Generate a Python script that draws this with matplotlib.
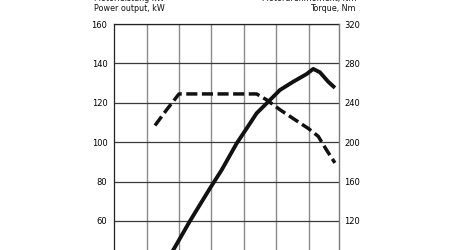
import matplotlib
matplotlib.use("Agg")
import matplotlib.pyplot as plt

# Data (rpm, power kW, torque Nm)
power_rpm = [2500, 2822, 3337, 3955, 4316, 4779, 5088, 5396, 5807, 6116, 6526, 6940, 7144, 7350, 7607, 7814]
power_kw = [37.0, 45.3, 60.0, 76.6, 85.9, 99.4, 107.0, 114.7, 121.4, 126.5, 130.7, 134.6, 137.2, 135.5, 130.7, 127.6]

torque_rpm = [2257, 2618, 2998, 5396, 5705, 6116, 6526, 6990, 7298, 7557, 7814]
torque_nm = [217, 233, 249, 249, 243, 233, 224, 214, 206, 192, 179]

power_ticks = [60, 80, 100, 120, 140, 160]
torque_ticks = [120, 160, 200, 240, 280, 320]
rpm_grid = [2000, 3000, 4000, 5000, 6000, 7000]

W, H = 467, 250
fig = plt.figure(figsize=(W / 100, H / 100), dpi=100)
left = 114.3 / W
right = 339.0 / W
top = 1 - 24.0 / H
height = 160 * 1.97 / H
ax = fig.add_axes([left, top - height, right - left, height])
ax2 = ax.twinx()

ax.set_xlim(1000, 7940)
ax.set_ylim(0, 160)
ax2.set_ylim(0, 320)

ax.set_xticks(rpm_grid)
ax.set_xticklabels([])
ax.set_yticks(power_ticks)
ax.set_yticklabels([str(v) for v in power_ticks], fontsize=6)
ax2.set_yticks(torque_ticks)
ax2.set_yticklabels([str(v) for v in torque_ticks], fontsize=6)
ax.tick_params(axis="both", length=0, pad=5)
ax2.tick_params(axis="both", length=0, pad=4)

ax.xaxis.grid(True, color="#8a8a8a", linewidth=1.0)
ax.yaxis.grid(True, color="#3a3a3a", linewidth=0.9)
ax.set_axisbelow(True)

for sp in ["left", "top"]:
    ax.spines[sp].set_color("#222222")
    ax.spines[sp].set_linewidth(0.9)
ax2.spines["left"].set_visible(False)
ax2.spines["top"].set_visible(False)
ax2.spines["bottom"].set_visible(False)
ax.spines["right"].set_visible(False)
ax2.spines["right"].set_color("#7a7a7a")
ax2.spines["right"].set_linewidth(1.0)

ax.plot(power_rpm, power_kw, color="#111111", linewidth=2.8, solid_capstyle="butt",
        solid_joinstyle="round", zorder=5)
ax2.plot(torque_rpm, torque_nm, color="#111111", linewidth=2.5, dashes=(3.2, 1.3), zorder=5)

fig.text(93.5 / W, 1 - 11.0 / H, "Motorleistung kW\nPower output, kW", fontsize=5.8,
         ha="left", va="baseline", linespacing=1.2, color="#111111")
fig.text(356.0 / W, 1 - 11.0 / H, "Motordrehmoment, Nm\nTorque, Nm", fontsize=5.8,
         ha="right", va="baseline", linespacing=1.2, color="#111111", multialignment="right")

fig.savefig("out.png", dpi=100)
